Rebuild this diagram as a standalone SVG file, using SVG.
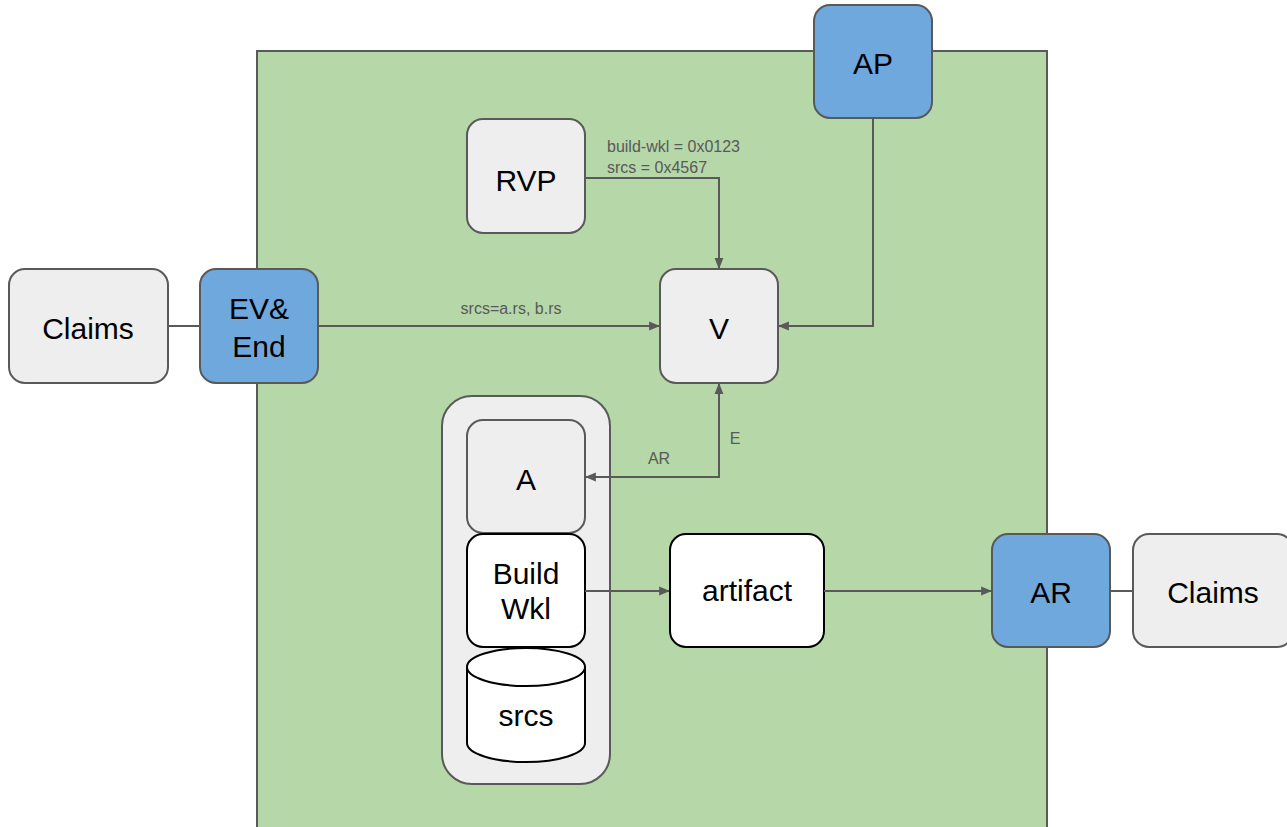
<svg xmlns="http://www.w3.org/2000/svg" width="1287" height="827" viewBox="0 0 1287 827">
<defs>
<style>
.box{stroke:#595959;stroke-width:2}
.grey{fill:#eeeeee}
.blue{fill:#6fa8dc}
.white{fill:#ffffff;stroke:#000000;stroke-width:2}
.t{font-family:"Liberation Sans",Arial,sans-serif;font-size:30px;fill:#000;text-anchor:middle}
.lbl{font-family:"Liberation Sans",Arial,sans-serif;font-size:16px;fill:#595959}
.c{fill:none;stroke:#595959;stroke-width:2}
</style>
<marker id="ah" viewBox="0 0 10 10" refX="9" refY="5" markerWidth="11" markerHeight="11" markerUnits="userSpaceOnUse" orient="auto-start-reverse">
<path d="M0,1 L10,5 L0,9 Z" fill="#595959"/>
</marker>
</defs>
<rect id="boundary" x="257" y="51" width="790" height="790" fill="#b6d7a8" stroke="#595959" stroke-width="2"/>
<g id="AP"><rect class="box blue" x="814" y="5" width="118" height="113" rx="16"/><text class="t" x="873" y="74">AP</text></g>
<g id="RVP"><rect class="box grey" x="467" y="119" width="118" height="114" rx="16"/><text class="t" x="526" y="191">RVP</text></g>
<g id="V"><rect class="box grey" x="660" y="269" width="118" height="114" rx="16"/><text class="t" x="719" y="339">V</text></g>
<g id="ClaimsLeft"><rect class="box grey" x="9" y="269" width="159" height="114" rx="16"/><text class="t" x="88" y="339">Claims</text></g>
<g id="EVEnd"><rect class="box blue" x="200" y="269" width="118" height="114" rx="16"/><text class="t" x="259" y="319">EV&amp;</text><text class="t" x="259" y="357">End</text></g>
<g id="Attester"><rect class="box grey" x="442" y="396" width="168" height="388" rx="30"/></g>
<g id="A"><rect class="box grey" x="467" y="420" width="118" height="113" rx="16"/><text class="t" x="526" y="490">A</text></g>
<g id="BuildWkl"><rect class="white" x="467" y="534" width="118" height="113" rx="16"/><text class="t" x="526" y="584">Build</text><text class="t" x="526" y="619">Wkl</text></g>
<g id="srcs"><path class="white" d="M467,667 L467,743 A59,19 0 0 0 585,743 L585,667 A59,19 0 0 0 467,667 A59,19 0 0 0 585,667"/><text class="t" x="526" y="726">srcs</text></g>
<g id="artifact"><rect class="white" x="670" y="534" width="154" height="113" rx="16"/><text class="t" x="747" y="601">artifact</text></g>
<g id="AR"><rect class="box blue" x="992" y="534" width="118" height="113" rx="16"/><text class="t" x="1051" y="603">AR</text></g>
<g id="ClaimsRight"><rect class="box grey" x="1133" y="534" width="160" height="113" rx="16"/><text class="t" x="1213" y="603">Claims</text></g>
<g id="connectors">
<line class="c" x1="168" y1="326" x2="200" y2="326"/>
<line class="c" x1="318" y1="326" x2="659" y2="326" marker-end="url(#ah)"/>
<polyline class="c" points="585,178 719,178 719,268" marker-end="url(#ah)"/>
<polyline class="c" points="873,118 873,326 779,326" marker-end="url(#ah)"/>
<polyline class="c" points="586,477 719,477 719,384" marker-start="url(#ah)" marker-end="url(#ah)"/>
<line class="c" x1="585" y1="591" x2="669" y2="591" marker-end="url(#ah)"/>
<line class="c" x1="824" y1="591" x2="991" y2="591" marker-end="url(#ah)"/>
<line class="c" x1="1110" y1="591" x2="1133" y2="591"/>
<text class="lbl" x="511" y="314" text-anchor="middle">srcs=a.rs, b.rs</text>
<text class="lbl" x="607" y="152">build-wkl = 0x0123</text>
<text class="lbl" x="607" y="173">srcs = 0x4567</text>
<text class="lbl" x="659" y="464" text-anchor="middle">AR</text>
<text class="lbl" x="735" y="444" text-anchor="middle">E</text>
</g>
</svg>
